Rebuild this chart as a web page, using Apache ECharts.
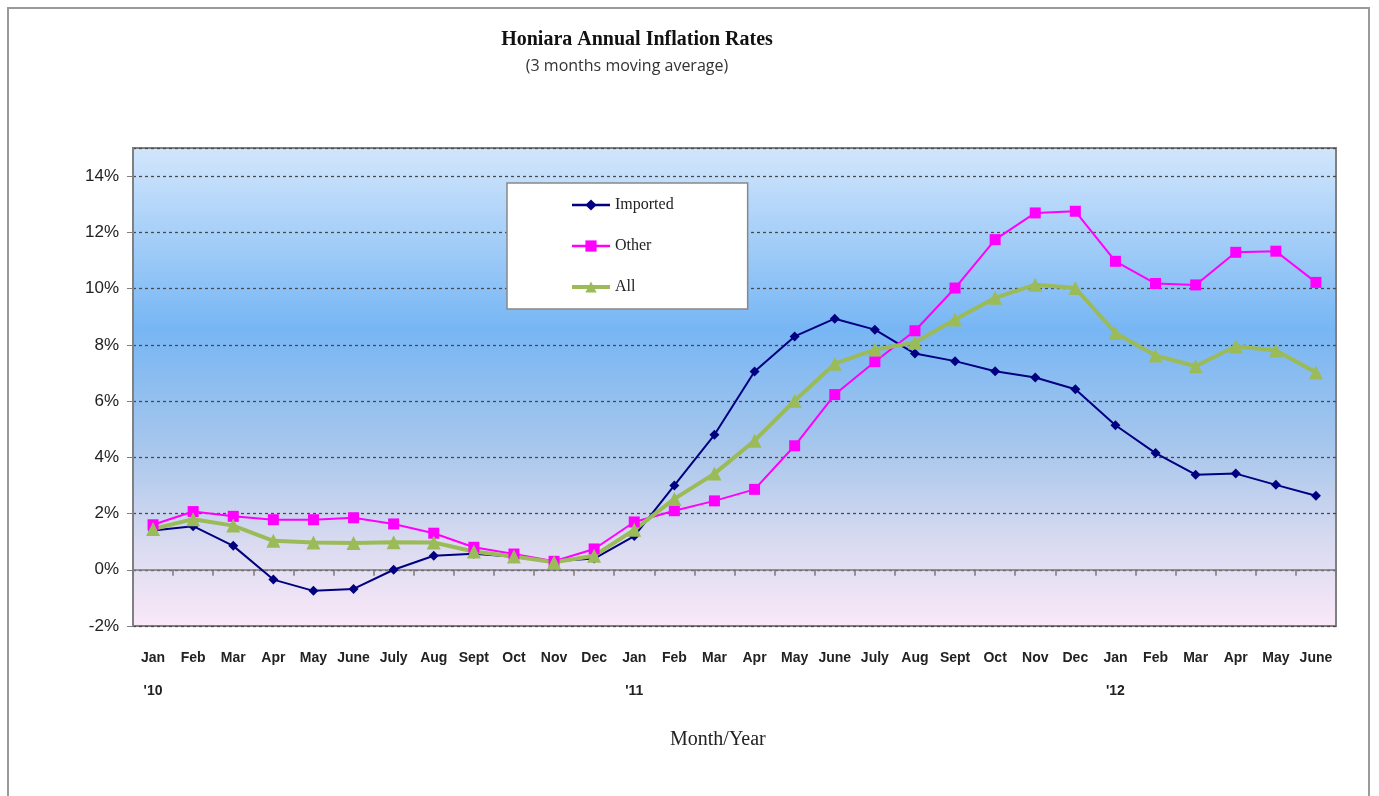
<!DOCTYPE html>
<html>
<head>
<meta charset="utf-8">
<script src="https://cdn.jsdelivr.net/npm/echarts@6/dist/echarts.min.js"></script>
<style>
html,body{margin:0;padding:0;background:#fff;}
#chart{width:1379px;height:796px;}
</style>
</head>
<body>
<div id="chart"></div>
<script>
const categories = ['Jan','Feb','Mar','Apr','May','June','July','Aug','Sept','Oct','Nov','Dec',
                    'Jan','Feb','Mar','Apr','May','June','July','Aug','Sept','Oct','Nov','Dec',
                    'Jan','Feb','Mar','Apr','May','June'];
const yearLabels = {0: "'10", 12: "'11", 24: "'12"};
const imported = [1.4,1.55,0.85,-0.35,-0.75,-0.68,0.0,0.5,0.57,0.46,0.3,0.4,
                  1.2,3.0,4.8,7.05,8.3,8.93,8.54,7.69,7.42,7.06,6.84,6.42,
                  5.14,4.15,3.38,3.42,3.02,2.63];
const other = [1.6,2.07,1.9,1.78,1.78,1.85,1.63,1.3,0.8,0.56,0.3,0.74,
               1.7,2.1,2.45,2.86,4.41,6.23,7.4,8.5,10.02,11.74,12.69,12.75,
               10.97,10.18,10.13,11.29,11.33,10.22];
const all = [1.45,1.8,1.57,1.03,0.97,0.95,0.98,0.97,0.65,0.47,0.27,0.5,
             1.42,2.52,3.42,4.59,6.01,7.33,7.83,8.08,8.9,9.67,10.14,10.02,
             8.42,7.62,7.24,7.95,7.8,7.02];
const yMin = -2, yMax = 15, yStep = 2;

const chart = echarts.init(document.getElementById('chart'), null, {renderer:'canvas'});
const labelFontFamily = 'Liberation Sans, Arial, sans-serif';
chart.setOption({
  backgroundColor:'#fff',
  animation:false,
  title:[
    {text:'Honiara Annual Inflation Rates', left:632, top:25, textAlign:'center',
     textStyle:{fontFamily:'Liberation Serif, serif', fontWeight:'bold', fontSize:20, color:'#111'}},
    {text:'(3 months moving average)', left:622, top:53, textAlign:'center',
     textStyle:{fontFamily:'Open Sans, Noto Sans, sans-serif', fontWeight:'normal', fontSize:16, color:'#333'}}
  ],
  graphic:[
    {type:'rect', shape:{x:8,y:8,width:1361,height:820}, style:{fill:'none', stroke:'#9a9a9a', lineWidth:2}, silent:true, z:-1},
    {type:'text', left:670, top:730, style:{text:'Month/Year', font:'20px "Liberation Serif", serif', fill:'#222'}}
  ],
  legend:{
    left:507, top:183, orient:'vertical',
    data:[
      {name:'Imported', lineStyle:{width:2.5}},
      {name:'Other', lineStyle:{width:2.5}},
      {name:'All', lineStyle:{width:4}}
    ],
    backgroundColor:'#fff', borderColor:'#888', borderWidth:1.5,
    padding:[14,74,14,63], itemGap:25, itemWidth:38, itemHeight:14,
    textStyle:{fontFamily:'Liberation Serif, serif', fontSize:16, color:'#222'}
  },
  grid:{left:133, right:43, top:148, bottom:170, show:true,
    borderColor:'#808080', borderWidth:2,
    backgroundColor:new echarts.graphic.LinearGradient(0,0,0,1,[
      {offset:0, color:'#d2e6fc'},
      {offset:0.38, color:'#77b6f4'},
      {offset:0.62, color:'#a6c6ec'},
      {offset:0.82, color:'#d8daf0'},
      {offset:1, color:'#fae8f8'}
    ])
  },
  xAxis:[
    {type:'category', data:categories, boundaryGap:true,
     axisLine:{onZero:true, lineStyle:{color:'#7a7a7a', width:1.5}},
     axisTick:{show:true, length:6, lineStyle:{color:'#7a7a7a', width:1.5}},
     axisLabel:{show:false}, splitLine:{show:false}},
    {type:'category', data:categories, boundaryGap:true, position:'bottom',
     axisLine:{show:false, onZero:false}, axisTick:{show:false}, splitLine:{show:false},
     axisLabel:{show:true, interval:0, margin:16,
       formatter:function(v,i){ return yearLabels[i] ? v + '\n' + yearLabels[i] : v; },
       fontFamily:labelFontFamily, fontWeight:'bold', fontSize:14, color:'#222', lineHeight:33}}
  ],
  yAxis:{type:'value', min:yMin, max:yMax, interval:yStep,
    axisLine:{show:true, lineStyle:{color:'#808080', width:2}},
    axisTick:{show:true, length:6, lineStyle:{color:'#808080'}},
    axisLabel:{formatter:function(v){return v + '%';}, showMaxLabel:false, margin:14,
      fontFamily:labelFontFamily, fontSize:17, color:'#222'},
    splitLine:{show:true, lineStyle:{color:'#4a4a4a', width:1.3, type:[3,3]}}
  },
  series:[
    {name:'Imported', type:'line', data:imported, xAxisIndex:0,
     symbol:'diamond', symbolSize:10, lineStyle:{color:'#000080', width:2},
     itemStyle:{color:'#000080'}},
    {name:'Other', type:'line', data:other, xAxisIndex:0,
     symbol:'rect', symbolSize:11, lineStyle:{color:'#ff00ff', width:2},
     itemStyle:{color:'#ff00ff'}},
    {name:'All', type:'line', data:all, xAxisIndex:0,
     symbol:'triangle', symbolSize:14, lineStyle:{color:'#9bbb59', width:4},
     itemStyle:{color:'#9bbb59'}}
  ]
});
</script>
</body>
</html>
